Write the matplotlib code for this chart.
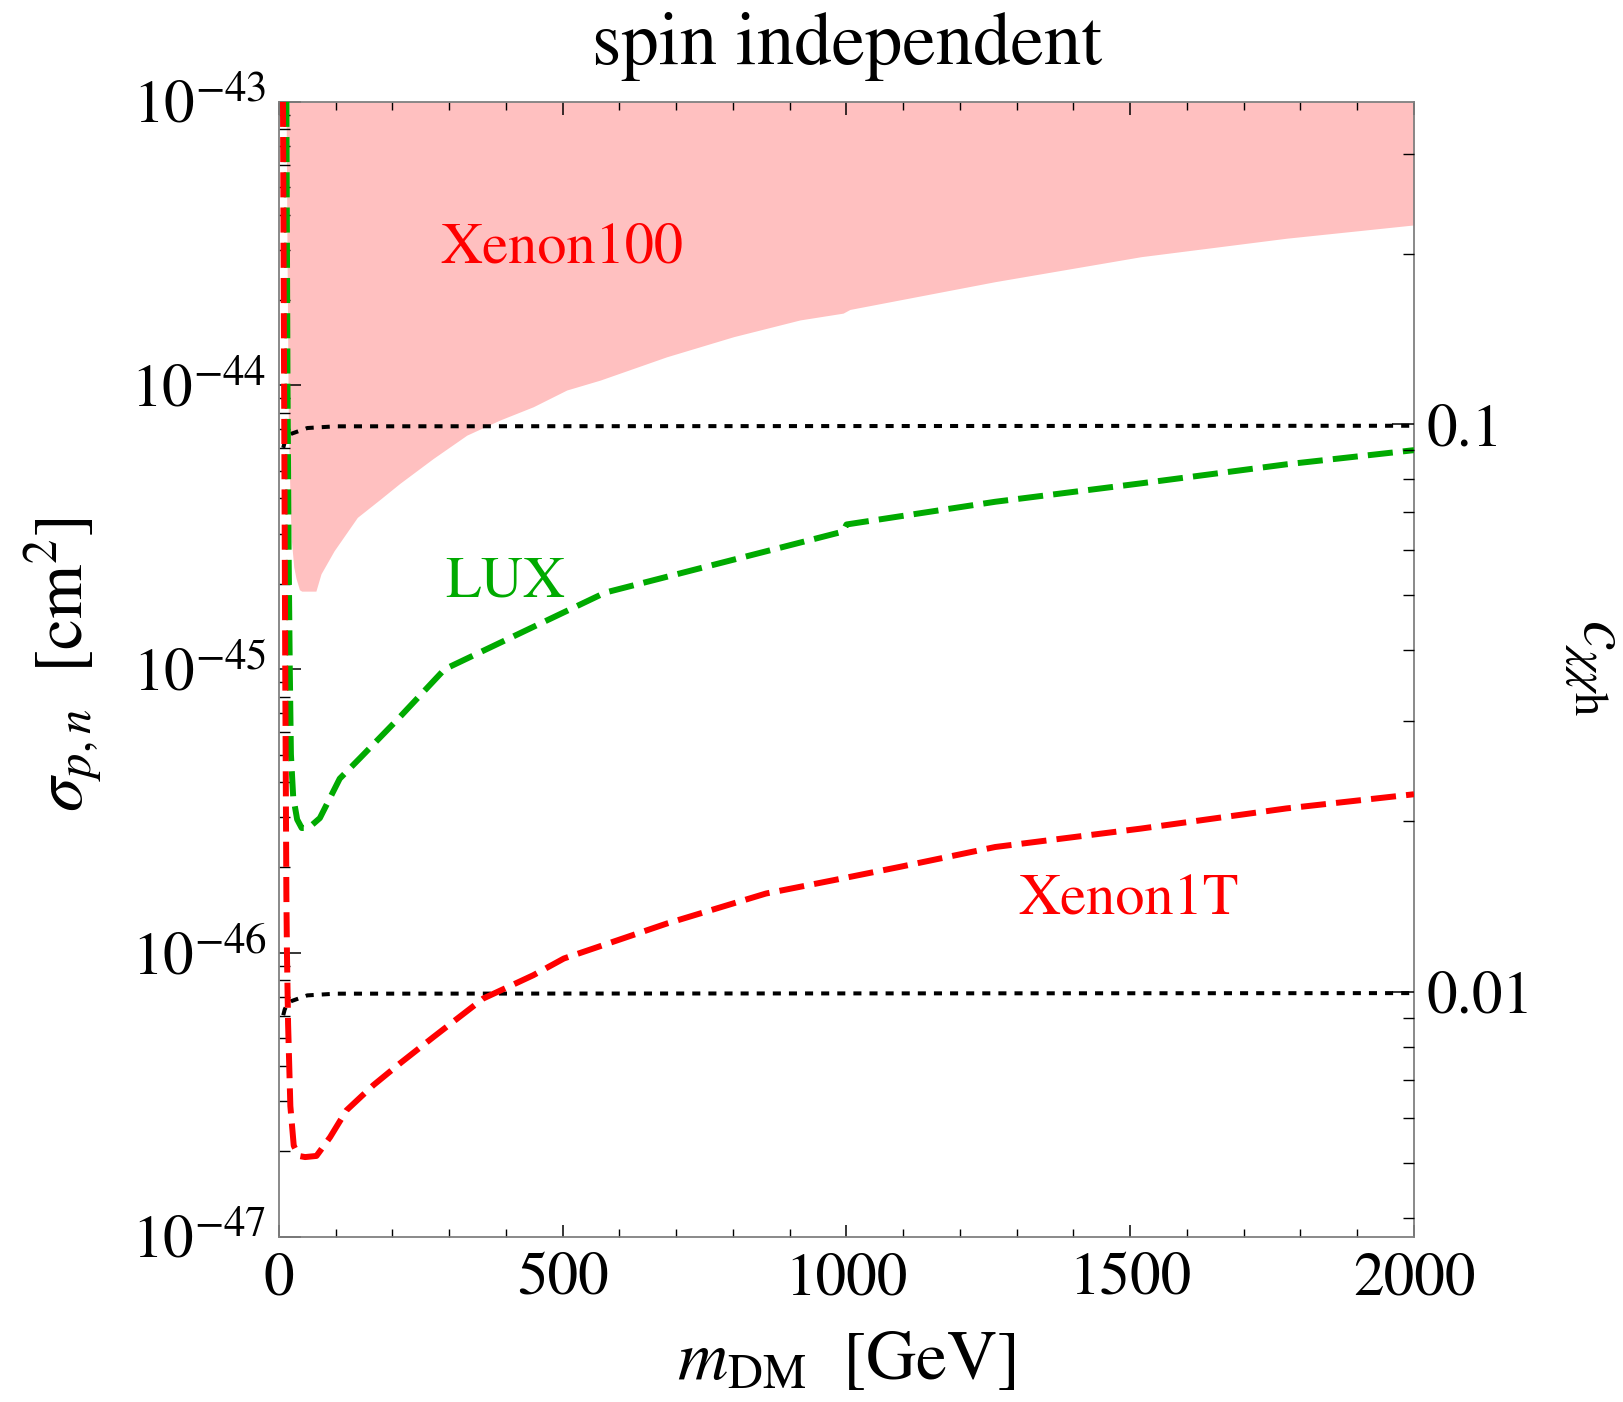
import numpy as np
import matplotlib
matplotlib.use("Agg")
import matplotlib.pyplot as plt
from matplotlib.ticker import FixedLocator, NullFormatter, FixedFormatter

plt.rcParams['font.family'] = ['STIXGeneral', 'DejaVu Serif']
plt.rcParams['mathtext.fontset'] = 'stix'

# ---------------- data (masses in GeV, log10 sigma in cm^2) ----------------
xenon100_mass = [12.5, 14, 16.5, 18, 20, 22, 26, 30, 36, 40, 65, 74, 97, 138, 179, 213, 272, 331,
                 389, 448, 507, 566, 683, 801, 918, 994, 1006, 1262, 1519, 1775, 2000]
xenon100_logsig = [-43.0, -43.5, -44.14, -44.27, -44.45, -44.55, -44.64, -44.68, -44.72, -44.725,
                   -44.725, -44.664, -44.583, -44.465, -44.40, -44.345, -44.257, -44.175,
                   -44.122, -44.075, -44.016, -43.981, -43.899, -43.828, -43.769, -43.745,
                   -43.732, -43.634, -43.546, -43.481, -43.434]

lux_mass = [13, 15, 17, 19, 21, 25, 32, 40, 52, 72, 107, 143, 210, 292, 575,
            994, 1000, 1262, 1519, 1775, 2000]
lux_logsig = [-43.0, -44.0, -44.6, -45.0, -45.3, -45.45, -45.53, -45.56, -45.56, -45.525, -45.386,
              -45.313, -45.175, -45.0, -44.73,
              -44.515, -44.49, -44.41, -44.345, -44.278, -44.228]

xenon1t_mass = [7, 9, 11, 13, 14, 16, 20, 26, 35, 46, 66, 90, 119, 166, 213, 272, 360, 448, 502,
                683, 858, 977, 1094, 1262, 1519, 1775, 2000]
xenon1t_logsig = [-43.0, -44.0, -45.0, -45.8, -46.0, -46.25, -46.54, -46.68, -46.716, -46.72,
                  -46.716, -46.65, -46.555, -46.467, -46.39, -46.297, -46.161, -46.079, -46.02,
                  -45.897, -45.791, -45.744, -45.697, -45.627, -45.562, -45.491, -45.441]

c01_mass = [7.5, 10, 15, 22, 50, 100, 2000]
c01_logsig = [-44.22, -44.20, -44.18, -44.17, -44.15, -44.144, -44.142]
c001_mass = [7.5, 10, 15, 22, 50, 100, 2000]
c001_logsig = [-46.22, -46.20, -46.18, -46.17, -46.15, -46.144, -46.142]

sigma_at_c_0p1 = 7.29e-45          # right-axis calibration: c = 0.1 <-> sigma
c_major = [0.01, 0.1]
c_major_labels = ["0.01", "0.1"]
c_minor = [0.004, 0.005, 0.006, 0.007, 0.008, 0.009, 0.02, 0.03, 0.04, 0.05, 0.06, 0.07, 0.08,
           0.09, 0.2, 0.3]

x_ticks = [0, 500, 1000, 1500, 2000]
y_decades = [-47, -46, -45, -44, -43]

# ---------------- figure ----------------
W, H = 1624, 1402
fig = plt.figure(figsize=(W / 100, H / 100), dpi=100)
L, R, T, B = 279, 1414, 101.8, 1236.5
ax = fig.add_axes([L / W, 1 - B / H, (R - L) / W, (B - T) / H])

pink = '#FFC0C0'
red = '#FF0000'
green = '#00AA00'

def pw(v):
    return np.power(10.0, np.asarray(v, dtype=float))

ax.fill_between(xenon100_mass, pw(xenon100_logsig), 1e-43, color=pink, lw=0, zorder=1)

ax.plot(c01_mass, pw(c01_logsig), color='black', lw=2.9, dashes=(2.0, 2.0), zorder=3)
ax.plot(c001_mass, pw(c001_logsig), color='black', lw=2.9, dashes=(2.0, 2.0), zorder=3)
ax.plot(lux_mass, pw(lux_logsig), color=green, lw=4.3, dashes=(4.2, 1.7), zorder=4)
ax.plot(xenon1t_mass, pw(xenon1t_logsig), color=red, lw=4.3, dashes=(4.2, 1.7), zorder=5)

ax.set_yscale('log')
ax.set_xlim(0, 2000)
ax.set_ylim(1e-47, 1e-43)

ax.set_xticks(x_ticks)
ax.set_xticklabels([str(v) for v in x_ticks])
ax.xaxis.set_minor_locator(FixedLocator(np.arange(0, 2001, 100)))
ax.set_yticks([10.0 ** d for d in y_decades])
ax.set_yticklabels([r'$10^{%d}$' % d for d in y_decades])
minors = [m * 10.0 ** d for d in y_decades[:-1] for m in range(2, 10)]
ax.yaxis.set_minor_locator(FixedLocator(minors))
ax.yaxis.set_minor_formatter(NullFormatter())

ax.tick_params(axis='x', which='both', direction='in', top=True, bottom=True,
               labelsize=44, pad=12, colors='black')
ax.tick_params(axis='x', which='major', length=9, width=1.1)
ax.tick_params(axis='x', which='minor', length=5.5, width=1.0)
ax.tick_params(axis='y', which='both', direction='in', left=True, right=False,
               labelsize=44, pad=9)
ax.tick_params(axis='y', which='major', length=16, width=1.1)
ax.tick_params(axis='y', which='minor', length=8, width=1.0)

for s in ax.spines.values():
    s.set_color('#808080')
    s.set_linewidth(1.3)

# right axis (c_chichih): sigma = K c^2  -> log-linear relation
K = sigma_at_c_0p1 / 0.1 ** 2
ax2 = ax.twinx()
ax2.set_yscale('log')
ax2.set_ylim(np.sqrt(1e-47 / K), np.sqrt(1e-43 / K))
ax2.yaxis.set_major_locator(FixedLocator(c_major))
ax2.yaxis.set_major_formatter(FixedFormatter(c_major_labels))
ax2.yaxis.set_minor_locator(FixedLocator(c_minor))
ax2.yaxis.set_minor_formatter(NullFormatter())
ax2.tick_params(axis='y', which='both', direction='in', labelsize=44, pad=9)
ax2.tick_params(axis='y', which='major', length=16, width=1.1)
ax2.tick_params(axis='y', which='minor', length=8, width=1.0)
for s in ax2.spines.values():
    s.set_visible(False)

# text labels
fig.text(847 / W, 1 - 64 / H, 'spin independent', ha='center', va='baseline', fontsize=54)
fig.text(846 / W, 1 - 1362 / H, r'$m_{\mathrm{DM}}\ \ [\mathrm{GeV}]$', ha='center', va='center',
         fontsize=50)
fig.text(63 / W, 1 - 665 / H, r'$\sigma_{p,n}\ \ [\mathrm{cm}^2]$', ha='center', va='center',
         rotation=90, fontsize=50)
fig.text(1592 / W, 1 - 667 / H, r'$c_{\chi\chi\mathrm{h}}$', ha='center', va='center',
         rotation=270, fontsize=48)

ax.text(499, 10 ** -43.519, 'Xenon100', color=red, fontsize=42, ha='center', va='center', zorder=6)
ax.text(398, 10 ** -44.697, 'LUX', color=green, fontsize=42, ha='center', va='center', zorder=6)
ax.text(1498, 10 ** -45.818, 'Xenon1T', color=red, fontsize=42, ha='center', va='center', zorder=6)

fig.savefig('out.png', dpi=100)
